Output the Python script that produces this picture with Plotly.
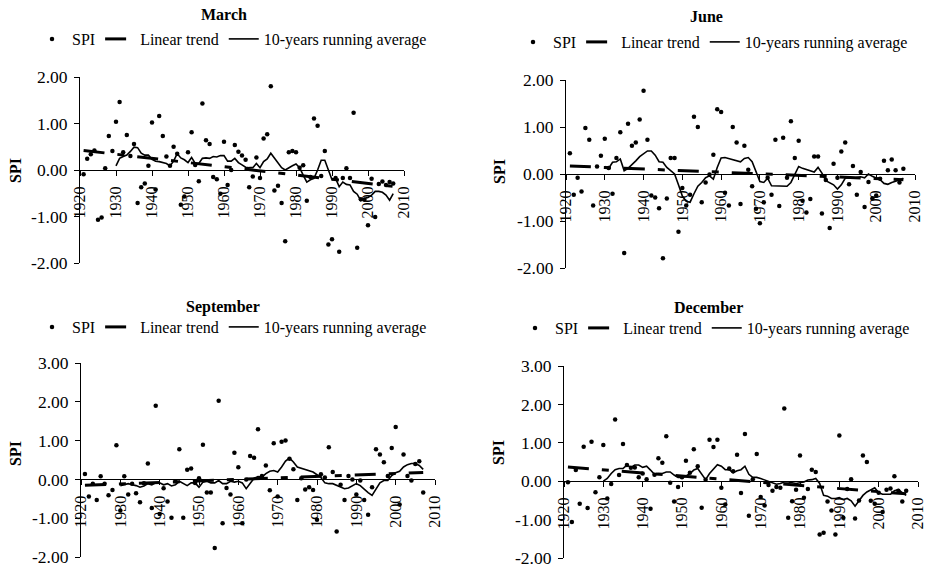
import plotly.graph_objects as go

# ---------------- data ----------------
years = list(range(1921, 2008))          # SPI years
run_years = list(range(1930, 2008))      # 10-year running average years
trend_years = [1921, 2007]
x_ticks = [1920, 1930, 1940, 1950, 1960, 1970, 1980, 1990, 2000, 2010]
x_ticklabels = [str(v) for v in x_ticks]

spi_march = [-0.09, 0.24, 0.34, 0.42, -1.07, -1.02, 0.04, 0.73, 0.41,
             1.04, 1.46, 0.38, 0.75, 0.30, 0.56, -0.71, -0.37, -0.29, 0.09,
             1.02, -0.42, 1.16, 0.73, 0.29, 0.09, 0.50, 0.35, -0.75, -0.57,
             0.38, 0.81, 0.11, -0.24, 1.43, 0.64, 0.56, -0.15, -0.20, -0.51,
             0.61, -0.32, 0.00, 0.54, 0.39, 0.31, 0.22, -0.37, -0.14, 0.27,
             -0.17, 0.68, 0.77, 1.80, -0.44, -0.34, -0.71, -1.53, 0.38, 0.41,
             0.38, 0.05, 0.10, -0.66, -0.15, 1.11, 0.95, -0.13, 0.41, -1.60,
             -1.49, -0.17, -1.76, -0.17, 0.04, -0.17, 1.23, -1.67, -0.63, -0.64,
             -1.19, -0.19, -1.01, -0.30, -0.25, -0.32, -0.26, -0.29]
run_march = [0.09, 0.25, 0.29, 0.32, 0.40, 0.49, 0.48, 0.36, 0.32, 0.32,
             0.23, 0.19, 0.18, 0.16, 0.14, 0.09, 0.19, 0.35, 0.26, 0.22,
             0.16, 0.27, 0.14, 0.14, 0.25, 0.26, 0.25, 0.29, 0.28, 0.31,
             0.31, 0.19, 0.19, 0.25, 0.16, 0.11, 0.06, 0.05, 0.05, 0.14,
             0.05, 0.18, 0.24, 0.36, 0.26, 0.16, 0.05, 0.00, 0.05, 0.09,
             0.13, 0.05, -0.11, -0.26, -0.21, -0.18, 0.00, 0.21, 0.21, 0.00,
             -0.21, -0.18, -0.36, -0.26, -0.31, -0.32, -0.46, -0.52, -0.66, -0.61,
             -0.59, -0.54, -0.46, -0.46, -0.48, -0.54, -0.65, -0.51]
trend_march = [0.42, -0.35]

spi_june = [0.44, -0.44, -0.08, -0.37, 0.98, 0.73, -0.67, 0.16, 0.39,
            0.75, 0.13, -0.42, 0.34, 0.89, -1.68, 1.07, 0.60, 0.67, 1.16,
            1.77, 0.73, -0.46, -0.50, -0.73, -1.79, -0.52, 0.34, 0.34, -1.23,
            -0.30, -0.67, -0.44, 1.22, 1.00, -0.60, -0.18, -0.01, 0.41, 1.38,
            1.32, -0.40, -0.67, 1.00, 0.67, -0.64, 0.60, 0.09, -0.26, -0.74,
            -1.05, -0.60, -0.08, -0.44, 0.73, -0.68, 0.77, -0.08, 1.12, 0.34,
            0.71, -0.57, -0.82, -0.53, 0.37, 0.37, -0.84, -0.13, -1.15, 0.22,
            -0.08, 0.48, 0.67, -0.22, 0.17, -0.44, 0.04, -0.70, -0.17, -0.52,
            -0.46, -0.10, 0.28, 0.08, 0.31, 0.08, -0.18, 0.11]
run_june = [0.16, 0.12, 0.25, 0.26, 0.32, 0.07, 0.12, 0.19, 0.28, 0.37,
            0.44, 0.49, 0.49, 0.40, 0.26, 0.25, 0.14, 0.07, 0.00, -0.23,
            -0.47, -0.58, -0.60, -0.42, -0.26, -0.18, -0.08, -0.04, -0.11, 0.14,
            0.34, 0.35, 0.33, 0.30, 0.28, 0.26, 0.33, 0.35, 0.26, 0.07,
            -0.16, -0.18, -0.09, -0.25, -0.25, -0.25, -0.25, -0.26, -0.18, 0.00,
            0.16, 0.12, 0.09, 0.07, 0.04, 0.14, 0.02, -0.14, -0.19, -0.23,
            -0.32, -0.23, -0.09, -0.08, -0.09, -0.08, -0.06, -0.08, 0.00, -0.05,
            -0.09, -0.12, -0.20, -0.22, -0.18, -0.16, -0.13, -0.09]
trend_june = [0.17, -0.12]

spi_september = [0.14, -0.44, -0.11, -0.53, 0.08, -0.11, -0.41, -0.27, 0.88,
                 -0.80, 0.08, -0.39, -0.11, -0.36, -0.59, -0.10, 0.41, -0.74, 1.90,
                 -0.89, -0.23, -0.57, -0.99, -0.05, 0.78, -0.99, 0.25, 0.28, -0.09,
                 0.03, 0.89, -0.34, -0.34, -1.77, 2.03, -1.13, -0.22, -0.39, 0.69,
                 0.31, -1.13, 0.00, 0.60, 0.56, 1.29, 0.09, 0.36, -0.28, 0.93,
                 -0.44, 0.97, 1.00, 0.53, 0.26, -0.53, 0.03, -0.26, -0.20, -0.27,
                 -1.04, 0.13, 0.05, 0.83, 0.19, -1.34, -0.14, -0.53, 0.09, 0.00,
                 -0.39, -0.03, -0.53, -0.91, -0.20, 0.78, 0.64, 0.44, 0.09, 0.81,
                 1.35, -0.65, 0.64, 0.09, -0.03, 0.40, 0.47, -0.34]
run_september = [-0.16, -0.14, -0.11, -0.14, -0.16, -0.20, -0.17, -0.11, -0.14, -0.09,
                 -0.09, -0.14, -0.11, -0.17, -0.14, -0.05, -0.11, -0.16, -0.09, -0.09,
                 -0.20, -0.07, -0.05, -0.09, -0.09, -0.03, -0.11, -0.11, -0.05, -0.07,
                 -0.05, -0.09, -0.24, -0.09, 0.03, 0.07, 0.06, 0.15, 0.21, 0.23,
                 0.19, 0.32, 0.47, 0.55, 0.45, 0.32, 0.29, 0.26, 0.23, 0.19,
                 0.12, 0.05, -0.09, -0.11, -0.11, -0.16, -0.21, -0.24, -0.22, -0.17,
                 -0.11, -0.16, -0.26, -0.34, -0.41, -0.26, -0.09, -0.03, -0.03, 0.10,
                 0.17, 0.21, 0.32, 0.38, 0.41, 0.41, 0.36, 0.26]
trend_september = [-0.15, 0.18]

spi_december = [-0.03, -1.06, 0.29, -0.59, 0.90, -0.70, 1.03, -0.29, 0.10,
                0.94, -0.45, -0.07, 1.61, 0.16, 0.97, 0.42, 0.35, 0.36, 0.10,
                0.20, 0.05, -0.72, 0.17, 0.60, 0.48, 1.17, -0.04, -0.53, -0.15,
                0.10, 0.53, 0.22, 0.83, 0.39, -0.69, 0.04, 1.08, 0.89, 1.08,
                -0.17, -0.61, 0.33, 0.26, 0.69, -0.31, 1.23, -0.90, 0.05, 0.71,
                -0.41, -0.63, -0.10, -0.25, -0.15, -0.17, 1.89, -0.95, -0.52, -0.22,
                0.67, -0.43, -0.20, 0.30, 0.24, -1.39, -1.34, -0.53, -0.76, -1.39,
                1.19, -0.95, -0.20, 0.05, -0.97, -0.50, 0.67, 0.50, -0.51, -0.59,
                -0.30, -0.80, -0.22, -0.19, 0.13, -0.25, -0.53, -0.25]
run_december = [0.00, 0.07, 0.20, 0.30, 0.33, 0.33, 0.42, 0.36, 0.42, 0.42,
                0.36, 0.39, 0.29, 0.18, 0.20, 0.20, 0.24, 0.24, 0.16, 0.10,
                0.10, 0.13, 0.20, 0.29, 0.33, 0.20, 0.04, 0.20, 0.33, 0.43,
                0.39, 0.30, 0.30, 0.22, 0.27, 0.30, 0.39, 0.18, 0.10, 0.10,
                0.07, 0.03, -0.02, -0.04, -0.08, -0.06, -0.02, -0.02, -0.04, -0.06,
                -0.04, -0.02, 0.03, 0.04, 0.07, -0.06, -0.37, -0.39, -0.45, -0.45,
                -0.43, -0.48, -0.45, -0.51, -0.65, -0.51, -0.37, -0.28, -0.22, -0.17,
                -0.30, -0.34, -0.34, -0.34, -0.25, -0.22, -0.30, -0.37]
trend_december = [0.37, -0.33]

panel_titles = ["March", "June", "September", "December"]
legend_names = ["SPI", "Linear trend", "10-years running average"]
y_ticks_a = [-2, -1, 0, 1, 2]
y_ticklabels_a = ["-2.00", "-1.00", "0.00", "1.00", "2.00"]
y_ticks_b = [-2, -1, 0, 1, 2, 3]
y_ticklabels_b = ["-2.00", "-1.00", "0.00", "1.00", "2.00", "3.00"]

# ---------------- layout geometry (pixels in a 927x569 canvas) ----------------
W, H = 927, 569
FONT = "Liberation Serif, Times New Roman, serif"

panels = [
    dict(spi=spi_march, run=run_march, trend=trend_march, title=panel_titles[0],
         xpx=(80, 404), ypx=(77, 263), yr=(-2, 2), yt=y_ticks_a, ytl=y_ticklabels_a,
         title_xy=(224, 14), leg_xy=(232, 39), spi_xy=(15, 170)),
    dict(spi=spi_june, run=run_june, trend=trend_june, title=panel_titles[1],
         xpx=(566, 915), ypx=(80, 268), yr=(-2, 2), yt=y_ticks_a, ytl=y_ticklabels_a,
         title_xy=(706, 16), leg_xy=(713, 42), spi_xy=(499, 172)),
    dict(spi=spi_september, run=run_september, trend=trend_september, title=panel_titles[2],
         xpx=(81, 435), ypx=(363, 557), yr=(-2, 3), yt=y_ticks_b, ytl=y_ticklabels_b,
         title_xy=(223, 307), leg_xy=(232, 327), spi_xy=(15, 453)),
    dict(spi=spi_december, run=run_december, trend=trend_december, title=panel_titles[3],
         xpx=(564, 918), ypx=(366, 558), yr=(-2, 3), yt=y_ticks_b, ytl=y_ticklabels_b,
         title_xy=(708, 307), leg_xy=(715, 328), spi_xy=(498, 452)),
]

fig = go.Figure()
layout = dict(
    template="none",
    width=W, height=H, margin=dict(l=0, r=0, t=0, b=0, autoexpand=False),
    paper_bgcolor="white", plot_bgcolor="white",
    font=dict(family=FONT, size=16, color="black"),
    annotations=[],
)

for i, p in enumerate(panels):
    n = "" if i == 0 else str(i + 1)
    xa, ya = "x" + n, "y" + n
    leg = "legend" + n
    xd = [p["xpx"][0] / W, p["xpx"][1] / W]
    yd = [1 - p["ypx"][1] / H, 1 - p["ypx"][0] / H]
    ymin, ymax = p["yr"]
    zero_pos = yd[0] + (0 - ymin) / (ymax - ymin) * (yd[1] - yd[0])

    fig.add_trace(go.Scatter(x=years, y=p["spi"], mode="markers", name=legend_names[0],
                             marker=dict(color="black", size=4.5), xaxis=xa, yaxis=ya,
                             legend=leg, cliponaxis=False))
    fig.add_trace(go.Scatter(x=trend_years, y=p["trend"], mode="lines", name=legend_names[1],
                             line=dict(color="black", width=3, dash="21px,13px,7px,13px"),
                             xaxis=xa, yaxis=ya, legend=leg))
    fig.add_trace(go.Scatter(x=run_years, y=p["run"], mode="lines", name=legend_names[2],
                             line=dict(color="black", width=1.6), xaxis=xa, yaxis=ya,
                             legend=leg))

    layout["xaxis" + n] = dict(
        domain=xd, range=[1920, 2010], tickvals=x_ticks, ticktext=x_ticklabels,
        tickangle=-90, showline=True, linecolor="black", linewidth=1,
        ticks="outside", ticklen=5, tickcolor="black", showgrid=False, zeroline=False,
        anchor="free", position=zero_pos, tickfont=dict(size=16, family=FONT),
        ticklabelstandoff=4, automargin=False,
    )
    layout["yaxis" + n] = dict(
        domain=yd, range=[ymin, ymax], tickvals=p["yt"], ticktext=p["ytl"],
        showline=True, linecolor="black", linewidth=1, ticks="outside", ticklen=5,
        tickcolor="black", showgrid=False, zeroline=False, anchor=xa,
        tickfont=dict(size=17.5, family=FONT), ticklabelstandoff=3, automargin=False,
    )
    layout[leg] = dict(
        orientation="h", x=p["leg_xy"][0] / W, xanchor="center",
        y=1 - p["leg_xy"][1] / H, yanchor="middle",
        font=dict(size=16, family=FONT, color="black"),
        bgcolor="rgba(0,0,0,0)", itemwidth=30, borderwidth=0,
    )
    layout["annotations"].append(dict(
        text="<b>%s</b>" % p["title"], x=p["title_xy"][0] / W, y=1 - p["title_xy"][1] / H,
        xref="paper", yref="paper", showarrow=False, xanchor="center", yanchor="middle",
        font=dict(size=16, family=FONT, color="black")))
    layout["annotations"].append(dict(
        text="<b>SPI</b>", x=p["spi_xy"][0] / W, y=1 - p["spi_xy"][1] / H,
        xref="paper", yref="paper", showarrow=False, xanchor="center", yanchor="middle",
        textangle=-90, font=dict(size=16, family=FONT, color="black")))

fig.update_layout(**layout)
fig.write_html("out.html", config={"displayModeBar": False},
               post_script="document.body.style.margin='0px';document.body.style.padding='0px';")
